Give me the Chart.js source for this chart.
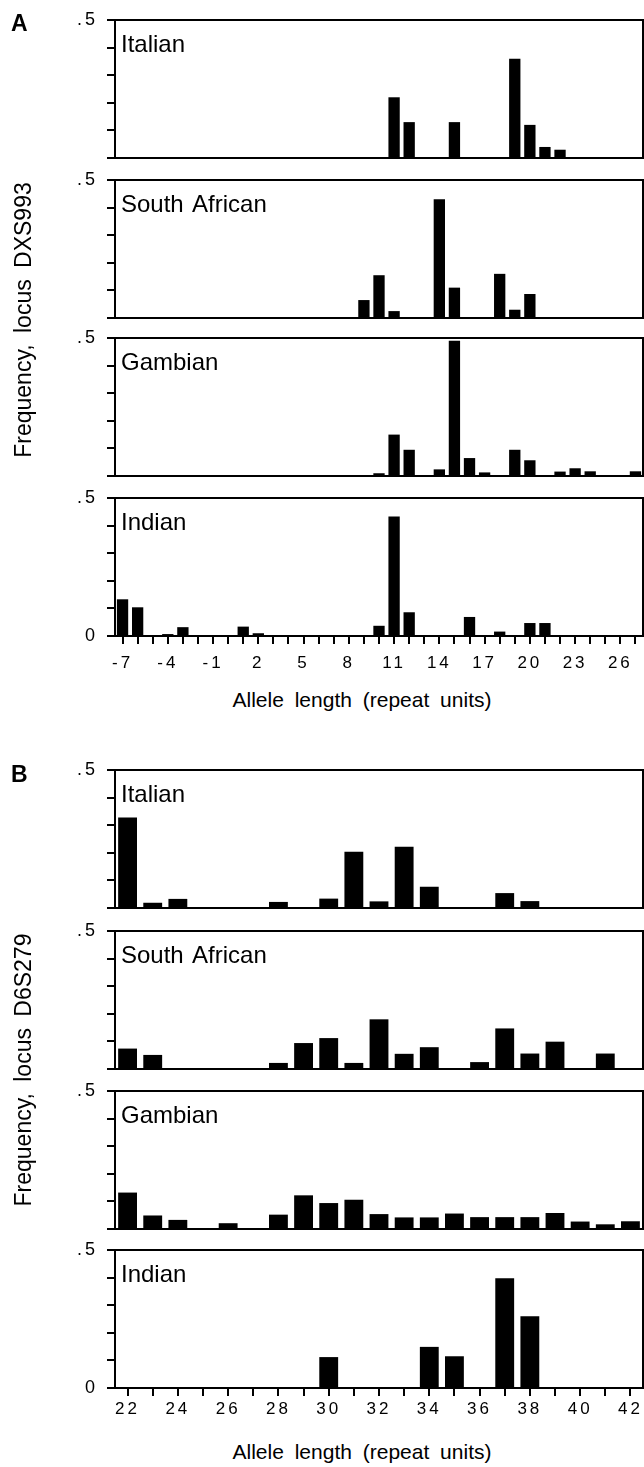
<!DOCTYPE html>
<html>
<head>
<meta charset="utf-8">
<script src="https://cdn.jsdelivr.net/npm/chart.js@4.4.0/dist/chart.umd.min.js"></script>
<style>
html,body{margin:0;padding:0;background:#fff;}
#wrap{position:relative;width:644px;height:1467px;overflow:hidden;font-family:"Liberation Sans",Arial,Helvetica,sans-serif;color:#000;background:#fff;}
.box{position:absolute;left:0;width:644px;}
.plabel{position:absolute;left:121px;font-size:24px;line-height:1;white-space:nowrap;word-spacing:3px;}
.letter{position:absolute;left:11px;font-weight:bold;font-size:23px;line-height:1;}
.ytitle{position:absolute;width:400px;height:26px;line-height:26px;text-align:center;font-size:23px;transform:rotate(-90deg);word-spacing:5px;white-space:nowrap;}
.xtitle{position:absolute;left:162px;width:400px;text-align:center;font-size:21px;line-height:1;word-spacing:5px;white-space:nowrap;}
</style>
</head>
<body>
<div id="wrap">
  <div class="letter" style="top:12px;">A</div>
  <div class="letter" style="top:763px;">B</div>
  <div class="ytitle" style="left:-177px;top:307px;">Frequency, locus DXS993</div>
  <div class="ytitle" style="left:-177px;top:1057px;">Frequency, locus D6S279</div>
  <div class="xtitle" style="top:689px;">Allele length (repeat units)</div>
  <div class="xtitle" style="top:1441px;">Allele length (repeat units)</div>
</div>
<script>
// ---- Data ----
const allelesA = [-7,-6,-5,-4,-3,-2,-1,0,1,2,3,4,5,6,7,8,9,10,11,12,13,14,15,16,17,18,19,20,21,22,23,24,25,26,27];
const allelesB = [22,23,24,25,26,27,28,29,30,31,32,33,34,35,36,37,38,39,40,41,42];

const italianA  = [0,0,0,0,0,0,0,0,0,0,0,0,0,0,0,0,0,0,0.22,0.13,0,0,0.13,0,0,0,0.36,0.12,0.04,0.03,0,0,0,0,0];
const safricanA = [0,0,0,0,0,0,0,0,0,0,0,0,0,0,0,0,0.065,0.155,0.025,0,0,0.43,0.11,0,0,0.16,0.03,0.087,0,0,0,0,0,0,0];
const gambianA  = [0,0,0,0,0,0,0,0,0,0,0,0,0,0,0,0,0,0.01,0.15,0.095,0,0.024,0.49,0.065,0.013,0,0.095,0.057,0,0.016,0.028,0.017,0,0,0.017];
const indianA   = [0.133,0.104,0,0.007,0.032,0,0,0,0.034,0.01,0,0,0,0,0,0,0,0.037,0.433,0.086,0,0,0,0.069,0,0.016,0,0.047,0.047,0,0,0,0,0,0];

const italianB  = [0.328,0.019,0.033,0,0,0,0.022,0,0.034,0.204,0.024,0.222,0.077,0,0,0.054,0.025,0,0,0,0];
const safricanB = [0.074,0.051,0,0,0,0,0.022,0.094,0.112,0.022,0.18,0.055,0.079,0,0.025,0.147,0.056,0.099,0,0.056,0];
const gambianB  = [0.132,0.049,0.033,0,0.021,0,0.052,0.122,0.094,0.106,0.054,0.042,0.042,0.056,0.043,0.043,0.043,0.058,0.027,0.017,0.028];
const indianB   = [0,0,0,0,0,0,0,0,0.112,0,0,0,0.149,0.115,0,0.398,0.26,0,0,0,0];

const populations = ["Italian","South African","Gambian","Indian"];
const yTicks = [0, 0.1, 0.2, 0.3, 0.4, 0.5];

// ---- Layout ----
const FONT = '"Liberation Sans", Arial, Helvetica, sans-serif';
const PLOT_H = 138;
const PAD_TOP = 14;
const panels = [
  {top:20,   labels:allelesA, values:italianA,  name:populations[0], bottom:false, step:3},
  {top:180,  labels:allelesA, values:safricanA, name:populations[1], bottom:false, step:3},
  {top:338,  labels:allelesA, values:gambianA,  name:populations[2], bottom:false, step:3},
  {top:498,  labels:allelesA, values:indianA,   name:populations[3], bottom:true,  step:3, labPad:9},
  {top:770,  labels:allelesB, values:italianB,  name:populations[0], bottom:false, step:2},
  {top:931,  labels:allelesB, values:safricanB, name:populations[1], bottom:false, step:2},
  {top:1091, labels:allelesB, values:gambianB,  name:populations[2], bottom:false, step:2},
  {top:1250, labels:allelesB, values:indianB,   name:populations[3], bottom:true,  step:2, labPad:3}
];

const framePlugin = {
  id:'frame',
  beforeDraw(chart){ chart.ctx.letterSpacing = '3px'; },
  afterDraw(chart){
    const {ctx, chartArea:a} = chart;
    ctx.save();
    ctx.letterSpacing = '0px';
    ctx.strokeStyle = '#000';
    ctx.lineWidth = 2;
    ctx.beginPath();
    ctx.moveTo(a.left, a.top);
    ctx.lineTo(a.right, a.top);
    ctx.lineTo(a.right, a.bottom);
    ctx.stroke();
    ctx.restore();
  }
};

const wrap = document.getElementById('wrap');
panels.forEach(p => {
  const xH = p.bottom ? 50 : 0;
  const padB = p.bottom ? 0 : 4;
  const H = PAD_TOP + PLOT_H + xH + padB;
  const box = document.createElement('div');
  box.className = 'box';
  box.style.top = (p.top - PAD_TOP) + 'px';
  box.style.height = H + 'px';
  const cv = document.createElement('canvas');
  cv.width = 644; cv.height = H;
  box.appendChild(cv);
  wrap.insertBefore(box, wrap.firstChild);

  const lab = document.createElement('div');
  lab.className = 'plabel';
  lab.style.top = (p.top + 12) + 'px';
  lab.textContent = p.name;
  wrap.appendChild(lab);

  new Chart(cv.getContext('2d'), {
    type:'bar',
    data:{
      labels:p.labels.map(String),
      datasets:[{
        data:p.values,
        backgroundColor:'#000',
        borderWidth:0,
        barPercentage:0.75,
        categoryPercentage:1.0
      }]
    },
    options:{
      responsive:false,
      animation:false,
      events:[],
      layout:{padding:{top:PAD_TOP, right:1, bottom:padB, left:0}},
      plugins:{legend:{display:false}, tooltip:{enabled:false}, title:{display:false}},
      scales:{
        x:{
          type:'category',
          offset:true,
          afterFit:s => { s.height = xH; s.paddingLeft = 0; s.paddingRight = 0; s.paddingTop = 0; s.paddingBottom = 0; },
          border:{display:true, color:'#000', width:2},
          grid:{display:p.bottom, offset:false, drawOnChartArea:false, drawTicks:true, tickLength:8, color:'#000', lineWidth:2},
          ticks:{
            display:p.bottom,
            autoSkip:false,
            maxRotation:0,
            padding:p.labPad || 0,
            color:'#000',
            font:{family:FONT, size:17},
            callback:(v, i) => (i % p.step === 0 ? String(p.labels[i]) : '')
          }
        },
        y:{
          min:0, max:0.5,
          afterFit:s => { s.width = 115; s.paddingTop = 0; s.paddingBottom = 0; s.paddingLeft = 0; s.paddingRight = 0; },
          afterBuildTicks:s => { s.ticks = yTicks.map(v => ({value:v})); },
          border:{display:true, color:'#000', width:2},
          grid:{drawOnChartArea:false, drawTicks:true, tickLength:8, color:'#000', lineWidth:2},
          ticks:{
            padding:9,
            color:'#000',
            font:{family:FONT, size:18},
            callback:v => (v === 0.5 ? '.5' : (v === 0 && p.bottom ? '0' : ''))
          }
        }
      }
    },
    plugins:[framePlugin]
  });
});
</script>
</body>
</html>
